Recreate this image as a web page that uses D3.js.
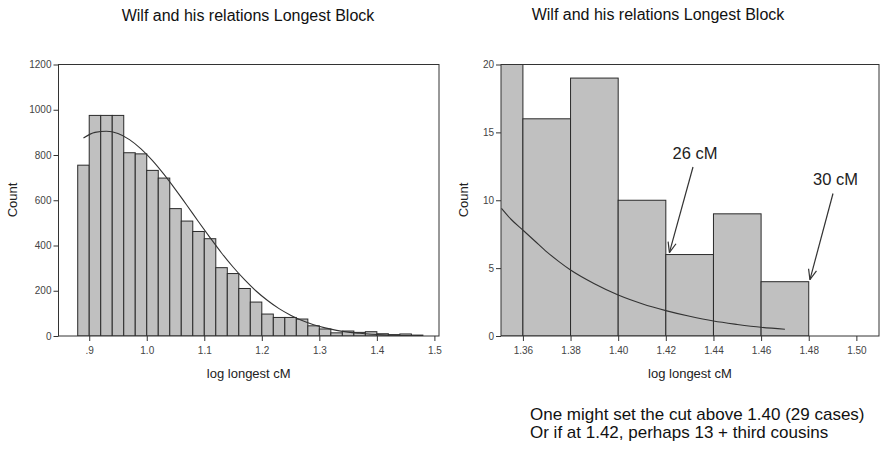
<!DOCTYPE html>
<html>
<head>
<meta charset="utf-8">
<script src="https://cdn.jsdelivr.net/npm/d3@7/dist/d3.min.js"></script>
<style>
  html, body { margin: 0; padding: 0; background: #fff; }
  svg { display: block; font-family: "Liberation Sans", Arial, sans-serif; }
</style>
</head>
<body>
<svg id="chart" width="881" height="450"></svg>
<script>
// ---------- data ----------
const chartTitle = "Wilf and his relations Longest Block";
const xLabel = "log longest cM";
const yLabel = "Count";

// histogram bins: lower edges, width 0.02
const binStarts = [0.88, 0.90, 0.92, 0.94, 0.96, 0.98, 1.00, 1.02, 1.04, 1.06,
                   1.08, 1.10, 1.12, 1.14, 1.16, 1.18, 1.20, 1.22, 1.24, 1.26,
                   1.28, 1.30, 1.32, 1.34, 1.36, 1.38, 1.40, 1.42, 1.44, 1.46];
const binWidth = 0.02;
const binCounts = [755, 975, 975, 975, 810, 805, 732, 698, 563, 508,
                   462, 430, 302, 276, 210, 150, 97, 82, 82, 75,
                   45, 31, 14, 22, 16, 19, 10, 6, 9, 4];

// fitted curve, left panel (x, count)
const leftCurveX = [0.89, 0.91, 0.93, 0.95, 0.97, 0.99, 1.01, 1.03, 1.05, 1.07,
                    1.09, 1.11, 1.13, 1.15, 1.17, 1.19, 1.21, 1.23, 1.25, 1.27,
                    1.29, 1.31, 1.33, 1.35, 1.37, 1.39, 1.41, 1.43, 1.45, 1.47];
const leftCurveY = [875, 900, 905, 895, 868, 827, 775, 714, 647, 577,
                    505, 435, 367, 305, 249, 199, 157, 121, 92, 68,
                    50, 36, 25, 17, 12, 8, 5, 3, 2, 1];

// fitted curve, right panel (x, count)
const rightCurveX = [1.351, 1.355, 1.36, 1.365, 1.37, 1.375, 1.38, 1.39, 1.40,
                     1.41, 1.42, 1.43, 1.44, 1.45, 1.46, 1.47];
const rightCurveY = [9.4, 8.6, 7.8, 7.0, 6.2, 5.5, 4.86, 3.85, 3.02,
                     2.38, 1.87, 1.45, 1.1, 0.85, 0.64, 0.5];

const leftXTicks = [0.9, 1.0, 1.1, 1.2, 1.3, 1.4, 1.5];
const leftXTickLabels = [".9", "1.0", "1.1", "1.2", "1.3", "1.4", "1.5"];
const leftYTicks = [0, 200, 400, 600, 800, 1000, 1200];
const rightXTicks = [1.36, 1.38, 1.40, 1.42, 1.44, 1.46, 1.48, 1.50];
const rightXTickLabels = ["1.36", "1.38", "1.40", "1.42", "1.44", "1.46", "1.48", "1.50"];
const rightYTicks = [0, 5, 10, 15, 20];
const rightMinX = 1.34;

const annotations = [
  { text: "26 cM", x: 1.4215, y: 6 },
  { text: "30 cM", x: 1.4805, y: 4 }
];
const noteLines = [
  "One might set the cut above 1.40 (29 cases)",
  "Or if at 1.42, perhaps 13 + third cousins"
];

// ---------- drawing ----------
const svg = d3.select("#chart");
const bins = binStarts.map((s, i) => ({ x0: s, x1: s + binWidth, n: binCounts[i] }));

function panel(opts) {
  const g = svg.append("g");
  const x = d3.scaleLinear().domain(opts.xDomain).range(opts.xRange);
  const y = d3.scaleLinear().domain(opts.yDomain).range(opts.yRange);
  const clipId = "clip" + opts.id;
  svg.append("clipPath").attr("id", clipId).append("rect")
    .attr("x", opts.xRange[0]).attr("y", opts.yRange[1])
    .attr("width", opts.xRange[1] - opts.xRange[0])
    .attr("height", opts.yRange[0] - opts.yRange[1]);

  const plot = g.append("g").attr("clip-path", `url(#${clipId})`);
  plot.selectAll("rect.bar").data(opts.bins).join("rect")
    .attr("class", "bar")
    .attr("x", d => x(d.x0))
    .attr("width", d => x(d.x1) - x(d.x0))
    .attr("y", d => y(d.n))
    .attr("height", d => y(0) - y(d.n))
    .attr("fill", "#c0c0c0")
    .attr("stroke", "#2a2a2a")
    .attr("stroke-width", 1);

  const line = d3.line().x(d => x(d[0])).y(d => y(d[1])).curve(d3.curveMonotoneX);
  plot.append("path")
    .datum(opts.curveX.map((v, i) => [v, opts.curveY[i]]))
    .attr("d", line)
    .attr("fill", "none")
    .attr("stroke", "#333")
    .attr("stroke-width", 1.1);

  // frame
  g.append("rect")
    .attr("x", opts.xRange[0]).attr("y", opts.yRange[1])
    .attr("width", opts.xRange[1] - opts.xRange[0])
    .attr("height", opts.yRange[0] - opts.yRange[1])
    .attr("fill", "none").attr("stroke", "#333").attr("stroke-width", 1);

  const xAxis = d3.axisBottom(x).tickValues(opts.xTicks)
    .tickFormat((d, i) => opts.xTickLabels[i]).tickSize(5).tickPadding(6);
  const gx = g.append("g").attr("transform", `translate(0,${opts.yRange[0]})`).call(xAxis);
  const yAxis = d3.axisLeft(y).tickValues(opts.yTicks).tickFormat(d3.format("d"))
    .tickSize(5).tickPadding(2);
  const gy = g.append("g").attr("transform", `translate(${opts.xRange[0]},0)`).call(yAxis);
  [gx, gy].forEach(a => {
    a.select(".domain").remove();
    a.selectAll(".tick line").attr("stroke", "#333");
    a.selectAll(".tick text").attr("fill", "#444").style("font-size", "10px")
      .style("font-family", '"Liberation Sans", Arial, sans-serif');
  });

  g.append("text")
    .attr("x", (opts.xRange[0] + opts.xRange[1]) / 2 + opts.xLabelDx)
    .attr("y", 378)
    .attr("text-anchor", "middle")
    .style("font-size", "13px").attr("fill", "#222")
    .text(xLabel);
  g.append("text")
    .attr("transform", `translate(${opts.yLabelX},200) rotate(-90)`)
    .attr("text-anchor", "middle")
    .style("font-size", "13px").attr("fill", "#222")
    .text(yLabel);
  g.append("text")
    .attr("x", opts.titleX).attr("y", opts.titleY)
    .attr("text-anchor", "middle")
    .style("font-size", "16px").attr("fill", "#111")
    .text(chartTitle);
  return { x, y, g };
}

panel({
  id: "L", bins: bins,
  xDomain: [0.8466, 1.508], xRange: [58.5, 439],
  yDomain: [0, 1200], yRange: [336, 64.5],
  curveX: leftCurveX, curveY: leftCurveY,
  xTicks: leftXTicks, xTickLabels: leftXTickLabels, yTicks: leftYTicks,
  xLabelDx: 0, yLabelX: 17, titleX: 248, titleY: 21
});

const R = panel({
  id: "R", bins: bins.filter(b => b.x0 >= rightMinX),
  xDomain: [1.3508, 1.5095], xRange: [501, 879],
  yDomain: [0, 20], yRange: [336, 64.5],
  curveX: rightCurveX, curveY: rightCurveY,
  xTicks: rightXTicks, xTickLabels: rightXTickLabels, yTicks: rightYTicks,
  xLabelDx: 0, yLabelX: 468, titleX: 658, titleY: 20
});

// annotations with arrows
const arrowG = svg.append("g");
const annoOffsets = [
  { tx: 695, ty: 159, sx: 693, sy: 165 },
  { tx: 835.5, ty: 185, sx: 833, sy: 191.5 }
];
annotations.forEach((a, i) => {
  const o = annoOffsets[i];
  const ex = R.x(a.x), ey = R.y(a.y) - 2;
  arrowG.append("text")
    .attr("x", o.tx).attr("y", o.ty)
    .attr("text-anchor", "middle")
    .style("font-size", "16.5px").attr("fill", "#222")
    .text(a.text);
  arrowG.append("line")
    .attr("x1", o.sx).attr("y1", o.sy + 2).attr("x2", ex).attr("y2", ey)
    .attr("stroke", "#333").attr("stroke-width", 1.2);
  const ang = Math.atan2(ey - o.sy, ex - o.sx);
  const L = 11, spread = 0.38;
  [ang + Math.PI - spread, ang + Math.PI + spread].forEach(t => {
    arrowG.append("line")
      .attr("x1", ex).attr("y1", ey)
      .attr("x2", ex + L * Math.cos(t)).attr("y2", ey + L * Math.sin(t))
      .attr("stroke", "#333").attr("stroke-width", 1.2);
  });
});

// notes
svg.selectAll("text.note").data(noteLines).join("text")
  .attr("class", "note")
  .attr("x", 530).attr("y", (d, i) => 420 + i * 18)
  .style("font-size", "17px").attr("fill", "#111")
  .text(d => d);
</script>
</body>
</html>
